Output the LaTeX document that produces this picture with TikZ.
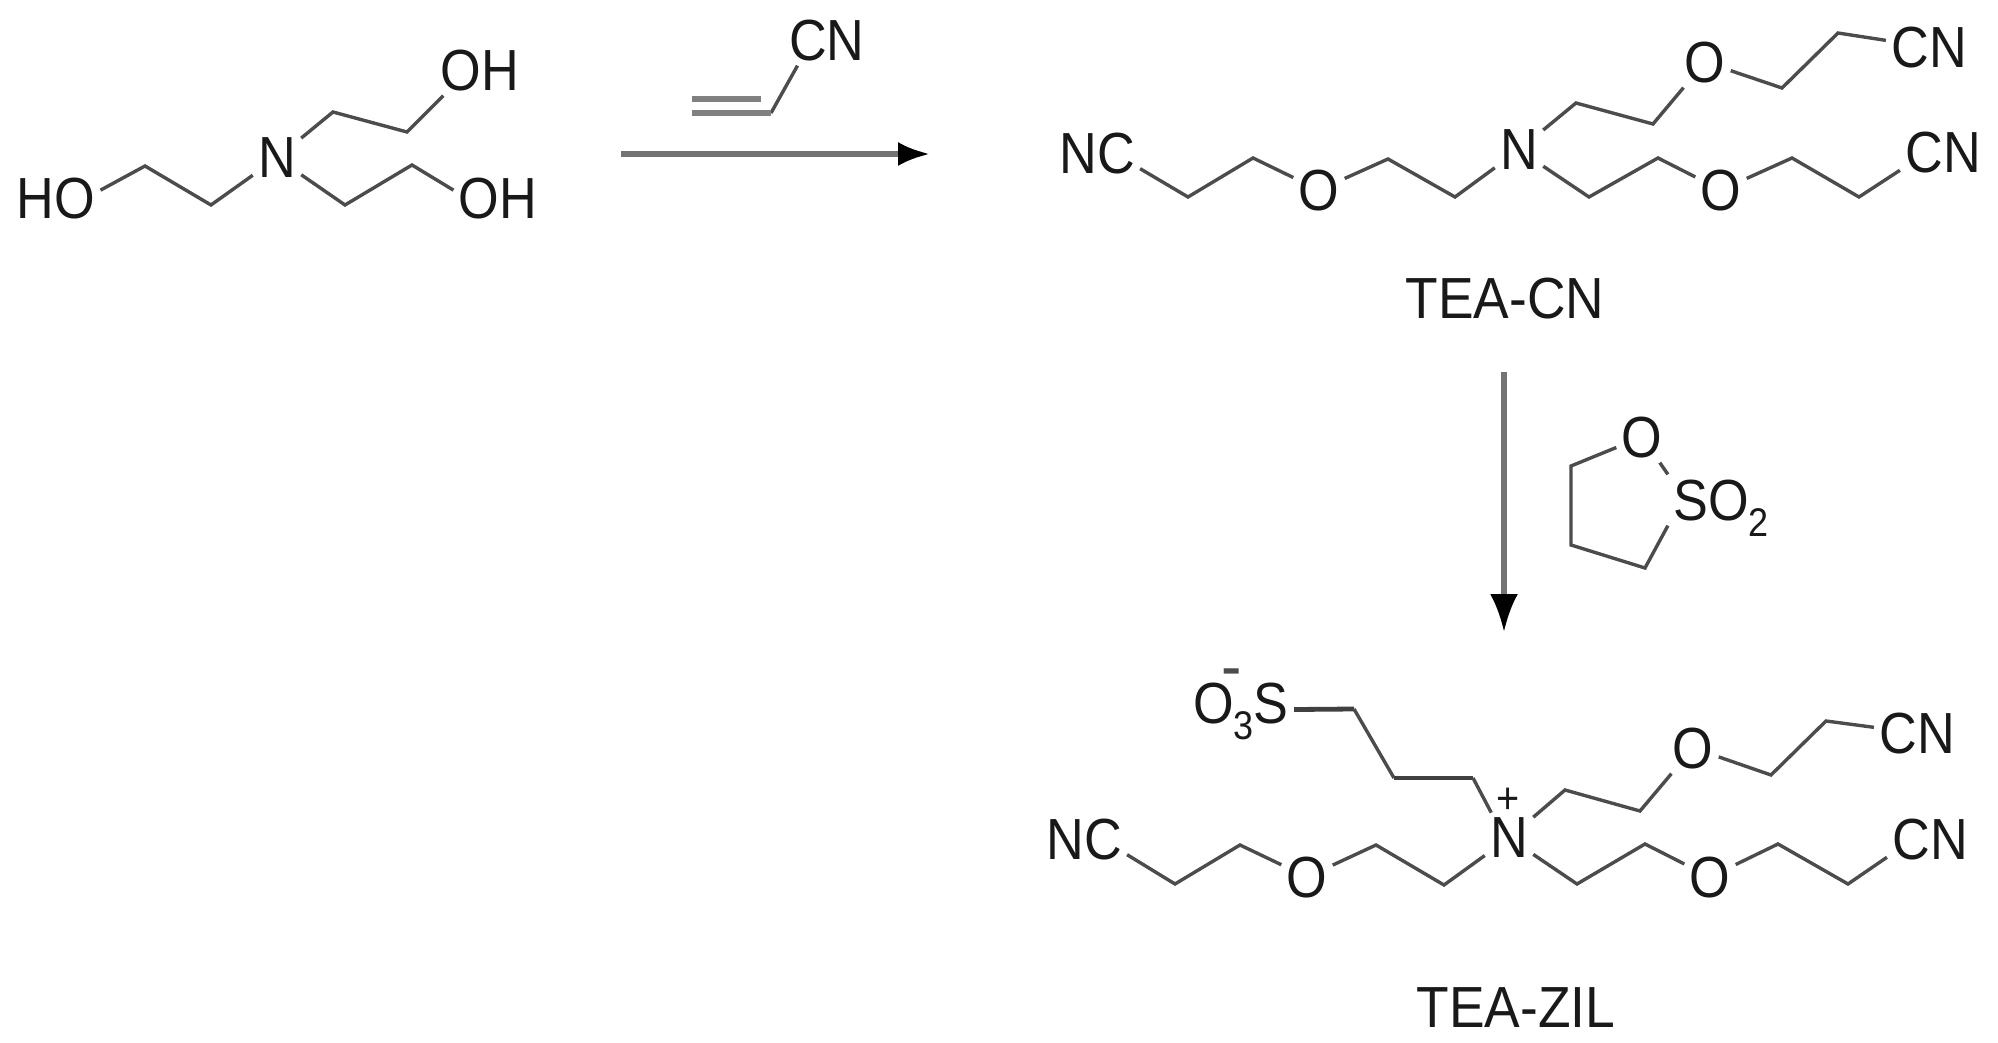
\documentclass[tikz,border=0pt]{standalone}
\usepackage{fontspec}
\setmainfont{Liberation Sans}[FakeStretch=0.9]
\newfontfamily\labelfont{Liberation Sans}[FakeStretch=0.92]
\usetikzlibrary{arrows.meta}

\tikzset{
  atom/.style={inner sep=2.5pt, text=black!90, font=\fontsize{29}{32}\selectfont, text depth=0pt},
  titlelabel/.style={atom, font=\labelfont\fontsize{29}{32}\selectfont},
  minus/.style={inner sep=0pt, text=black!70, font=\fontsize{34}{36}\selectfont},
  plus/.style={inner sep=0pt, text=black!90, font=\fontsize{22}{24}\selectfont},
  bond/.style={draw=black!70, line width=1.7pt},
  heavybond/.style={draw=black!75, line width=2.4pt},
  dblbond/.style={draw=black!50, line width=3pt},
  hrxn/.style={draw=black!55, line width=2.6pt, -{Latex[black,length=16pt,width=12pt]}},
  vrxn/.style={draw=black!55, line width=2.6pt, -{Latex[black,length=19pt,width=14pt]}}
}
\newcommand{\subdigit}[1]{\raisebox{-8pt}{\fontsize{20}{20}\selectfont #1}}

\begin{document}
\begin{tikzpicture}[x=0.5pt, y=-0.5pt]
  \useasboundingbox (0,0) rectangle (1998,1043);

  % triethanolamine
  \node[atom] (na) at (277,158) {N};
  \node[atom] (oha) at (480,70) {OH};
  \node[atom] (hob) at (56,198) {HO};
  \node[atom] (ohc) at (498,198) {OH};
  \foreach \name/\pos in {a1/{333,112}, a2/{407,132}, b1/{211,205}, b2/{145,166}, c1/{345,205}, c2/{412,165}}
    \coordinate (\name) at (\pos);
  \draw[bond] (na) -- (a1) -- (a2) -- (oha.215);
  \draw[bond] (na) -- (b1) -- (b2) -- (hob.10);
  \draw[bond] (na) -- (c1) -- (c2) -- (ohc.170);

  % acrylonitrile
  \node[atom] (cnv) at (827,40) {CN};
  \foreach \name/\pos in {v1/{771,113}, v2/{692,113}, v3/{761,99}, v4/{692,99}}
    \coordinate (\name) at (\pos);
  \draw[bond] (cnv.221) -- (v1);
  \draw[dblbond] (v1) -- (v2);
  \draw[dblbond] (v3) -- (v4);
  \coordinate (arrs) at (621,154);
  \coordinate (arre) at (930,154);
  \draw[hrxn] (arrs) -- (arre);

  % TEA-CN
  \node[atom] (n) at (1519,150) {N};
  \node[atom] (ol) at (1319,190) {O};
  \node[atom] (ou) at (1705,62) {O};
  \node[atom] (or) at (1721,190) {O};
  \node[atom] (ncl) at (1097,153) {NC};
  \node[atom] (cnu) at (1929,47) {CN};
  \node[atom] (cnr) at (1943,152) {CN};
  \node[titlelabel] (teacn) at (1505,298) {TEA-CN};
  \foreach \name/\pos in {u1/{1576,103}, u2/{1653,124}, u3/{1782,88}, u4/{1838,33},
      l1/{1455,197}, l2/{1388,159}, l3/{1253,158}, l4/{1188,197},
      r1/{1589,197}, r2/{1658,158}, r3/{1792,158}, r4/{1859,197}}
    \coordinate (\name) at (\pos);
  \draw[bond] (n) -- (u1) -- (u2) -- (ou) -- (u3) -- (u4) -- (cnu);
  \draw[bond] (n) -- (l1) -- (l2) -- (ol) -- (l3) -- (l4) -- (ncl.-20);
  \draw[bond] (n) -- (r1) -- (r2) -- (or) -- (r3) -- (r4) -- (cnr.203);

  \coordinate (arrt) at (1504,372);
  \coordinate (arrb) at (1504,632);
  \draw[vrxn] (arrt) -- (arrb);

  % propane sultone
  \node[atom] (os) at (1642,437) {O};
  \node[atom] (so) at (1721,500) {SO\subdigit{2}};
  \foreach \name/\pos in {s1/{1571,466}, s2/{1571,545}, s3/{1645,568}}
    \coordinate (\name) at (\pos);
  \draw[bond] (so.north west) -- (os) -- (s1) -- (s2) -- (s3) -- (so.south west);

  % TEA-ZIL
  \node[atom] (z) at (1509,838) {N};
  \node[plus] (zp) at (1508,801) {+};
  \node[atom] (sulf) at (1241,703) {O\subdigit{3}S};
  \node[minus] (zm) at (1232,679) {-};
  \node[atom] (zol) at (1307,877) {O};
  \node[atom] (zou) at (1693,748) {O};
  \node[atom] (zor) at (1710,877) {O};
  \node[atom] (zncl) at (1084,839) {NC};
  \node[atom] (zcnu) at (1917,733) {CN};
  \node[atom] (zcnr) at (1930,839) {CN};
  \node[titlelabel] (teazil) at (1516,1008) {TEA-ZIL};
  \foreach \name/\pos in {t1/{1354,709}, t2/{1394,778}, t3/{1473,778},
      p1/{1565,790}, p2/{1640,811}, p3/{1771,775}, p4/{1826,721},
      q1/{1444,885}, q2/{1376,845}, q3/{1240,845}, q4/{1175,884},
      w1/{1577,884}, w2/{1645,844}, w3/{1778,844}, w4/{1848,884}}
    \coordinate (\name) at (\pos);
  \draw[heavybond] (sulf.-7) -- (t1);
  \draw[bond] (t1) -- (t2);
  \draw[heavybond] (t2) -- (t3);
  \draw[bond] (t3) -- (z.125);
  \draw[bond] (z) -- (p1) -- (p2) -- (zou) -- (p3) -- (p4) -- (zcnu);
  \draw[bond] (z) -- (q1) -- (q2) -- (zol) -- (q3) -- (q4) -- (zncl.-20);
  \draw[bond] (z) -- (w1) -- (w2) -- (zor) -- (w3) -- (w4) -- (zcnr.203);
\end{tikzpicture}
\end{document}
